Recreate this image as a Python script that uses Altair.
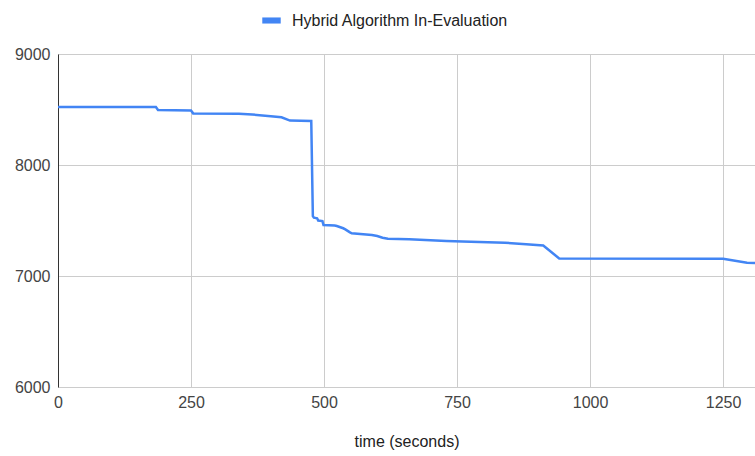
import altair as alt
import pandas as pd

series_name = "Hybrid Algorithm In-Evaluation"
time_s = [0, 184, 188, 250, 254, 340, 365, 400, 420, 436, 476, 479, 481, 487, 489,
          497, 499, 520, 524, 536, 540, 548, 552, 590, 600, 610, 620, 660, 730, 760,
          840, 880, 912, 942, 1250, 1295, 1310]
values = [8522, 8522, 8495, 8490, 8465, 8462, 8455, 8440, 8430, 8400, 8397, 7540, 7525,
          7520, 7500, 7495, 7460, 7455, 7450, 7430, 7420, 7395, 7385, 7370, 7360, 7345,
          7335, 7330, 7315, 7310, 7300, 7285, 7275, 7158, 7155, 7120, 7118]
x_ticks = [0, 250, 500, 750, 1000, 1250]
y_ticks = [6000, 7000, 8000, 9000]

df = pd.DataFrame({"t": time_s, "v": values, "s": [series_name] * len(time_s)})

font = "Liberation Sans"

line = alt.Chart(df).mark_line(strokeWidth=2.5, clip=True, interpolate="linear").encode(
    x=alt.X("t:Q",
            scale=alt.Scale(domain=[0, 1310], nice=False, zero=False),
            axis=alt.Axis(values=x_ticks, title="time (seconds)", grid=True, format="d",
                          gridColor="#cccccc", domain=False, ticks=False,
                          labelFont=font, labelFontSize=16, labelColor="#444444",
                          labelPadding=7, labelFlush=False,
                          titleFont=font, titleFontSize=16, titleColor="#222222",
                          titleFontWeight="normal", titlePadding=23)),
    y=alt.Y("v:Q",
            scale=alt.Scale(domain=[6000, 9000], nice=False, zero=False),
            axis=alt.Axis(values=y_ticks, title=None, grid=True, gridColor="#cccccc",
                          format="d", domain=True, domainColor="#333333", domainWidth=1,
                          ticks=False, labelFont=font, labelFontSize=16,
                          labelColor="#444444", labelPadding=8)),
    color=alt.Color("s:N",
                    scale=alt.Scale(domain=[series_name], range=["#4285F4"]),
                    legend=alt.Legend(title=None, orient="none", legendX=204, legendY=-43,
                                      labelFont=font, labelFontSize=16, labelLimit=0,
                                      labelColor="#222222",
                                      symbolType="M-1,-0.33L1,-0.33L1,0.33L-1,0.33Z",
                                      symbolFillColor="#4285F4", symbolStrokeWidth=0,
                                      symbolSize=340, labelOffset=11)),
)

chart = line.properties(
    width=697, height=333,
    autosize=alt.AutoSizeParams(type="none"),
    padding={"left": 58, "top": 54, "right": 0, "bottom": 69},
).configure_view(stroke=None).configure(background="white")

chart.save("out.html", embed_options={"renderer": "svg", "actions": False})
